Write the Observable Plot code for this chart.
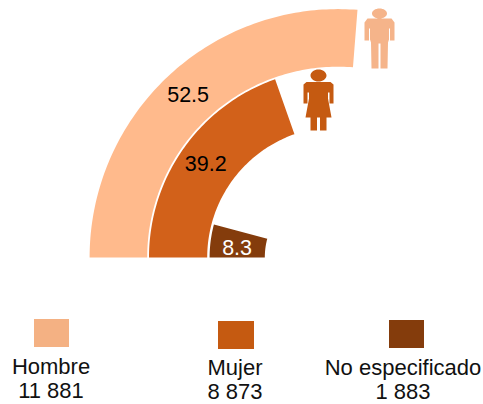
<!DOCTYPE html>
<html><head><meta charset="utf-8">
<script src="https://cdn.jsdelivr.net/npm/d3@7"></script>
<script src="https://cdn.jsdelivr.net/npm/@observablehq/plot@0.6"></script>
<style>
html,body{margin:0;padding:0;background:#fff}
body{width:483px;height:404px;position:relative;overflow:hidden;font-family:"Liberation Sans",Arial,sans-serif}
svg{display:block}
.sw{position:absolute}
.lb{position:absolute;transform:translateX(-50%);text-align:center;white-space:nowrap;font-size:22px;line-height:24px;color:#111}
</style></head><body>
<div id="chart"></div>
<script>
const categories = ["Hombre", "Mujer", "No especificado"];
const percents = [52.5, 39.2, 8.3];
const totals = ["11 881", "8 873", "1 883"];
const arcColors = ["#FFBA8C", "#D2611A", "#843C0C"];
const legendColors = ["#F4B183", "#C55A11", "#843C0C"];
const labelColors = ["#000", "#000", "#fff"];
const labelAt = [26.25, 19.6, 3.1];
const labelRing = [3.68, 2.70, 1.69];
const innerRing = [3.18, 2.18, 1.22];
const outerRing = [4.14, 3.15, 2.14];

const W = 483, H = 285, unit = 60, cx = 337.5, cy = 257;
const toXY = (pct, r) => {
  const a = pct / 100 * Math.PI;
  return [-r * Math.cos(a), r * Math.sin(a)];
};

// Polar bands, expressed in ring units and sampled along each value's sweep
const bands = categories.flatMap((c, i) => {
  const pts = [];
  const n = Math.ceil(percents[i] * 2);
  for (let k = 0; k <= n; k++) pts.push(toXY(percents[i] * k / n, outerRing[i]));
  for (let k = n; k >= 0; k--) pts.push(toXY(percents[i] * k / n, innerRing[i]));
  return pts.map(([x, y]) => ({c, x, y}));
});
const labels = categories.map((c, i) => {
  const [x, y] = toXY(labelAt[i], labelRing[i]);
  return {c, x, y, t: percents[i].toFixed(1), col: labelColors[i]};
});

const head = (ctx, s, cyy, rx, ry) => {
  const k = 0.5523;
  ctx.moveTo(-rx * s, cyy * s);
  ctx.bezierCurveTo(-rx * s, (cyy - ry * k) * s, -rx * k * s, (cyy - ry) * s, 0, (cyy - ry) * s);
  ctx.bezierCurveTo(rx * k * s, (cyy - ry) * s, rx * s, (cyy - ry * k) * s, rx * s, cyy * s);
  ctx.bezierCurveTo(rx * s, (cyy + ry * k) * s, rx * k * s, (cyy + ry) * s, 0, (cyy + ry) * s);
  ctx.bezierCurveTo(-rx * k * s, (cyy + ry) * s, -rx * s, (cyy + ry * k) * s, -rx * s, cyy * s);
  ctx.closePath();
};
const poly = (ctx, s, pts) => {
  pts.forEach(([x, y], i) => i ? ctx.lineTo(x * s, y * s) : ctx.moveTo(x * s, y * s));
  ctx.closePath();
};
const manSymbol = {draw(ctx, size) {
  const s = Math.sqrt(size / Math.PI) / 27;
  head(ctx, s, -28, 7.5, 5);
  poly(ctx, s, [[-1, 27], [-8, 27], [-8.5, 1], [-9.5, -2], [-9.5, -13], [-10.5, -13], [-10.5, -1], [-15, -1], [-15, -19], [-12, -23], [12, -23], [15, -19], [15, -1], [10.5, -1], [10.5, -13], [9.5, -13], [9.5, -2], [8.5, 1], [8, 27], [1, 27], [1, 2], [-1, 2]]);
}};
const womanSymbol = {draw(ctx, size) {
  const s = Math.sqrt(size / Math.PI) / 27;
  head(ctx, s, -27, 8, 6);
  poly(ctx, s, [[-12, -20.5], [-15, -18], [-15, 1], [-11, 1], [-11, -10], [-9.5, -10], [-9.5, -4], [-13, 15], [-8, 15], [-8, 28], [-1.5, 28], [-1.5, 15], [1.5, 15], [1.5, 28], [8, 28], [8, 15], [13, 15], [9.5, -4], [9.5, -10], [11, -10], [11, 1], [15, 1], [15, -18], [12, -20.5]]);
}};
// Figures sit just past each band's end, in ring units
const figures = [
  {x: 41.5 / unit, y: 216 / unit, symbol: manSymbol, fill: "#F5B48A"},
  {x: -19.5 / unit, y: 155 / unit, symbol: womanSymbol, fill: "#C55A11"}
];

const chart = Plot.plot({
  width: W, height: H, margin: 0,
  x: {domain: [-cx / unit, (W - cx) / unit], range: [0, W], axis: null},
  y: {domain: [(cy - H) / unit, cy / unit], range: [H, 0], axis: null},
  color: {type: "identity"},
  marks: [
    ...categories.map((c, i) => Plot.line(bands.filter(d => d.c === c), {
      x: "x", y: "y", fill: arcColors[i], stroke: "none", curve: "linear"
    })),
    Plot.text(labels, {x: "x", y: "y", text: "t", fill: "col", fontSize: 21.5, fontFamily: "Liberation Sans, Arial, sans-serif"}),
    ...figures.map(f => Plot.dot([f], {x: "x", y: "y", symbol: () => f.symbol, r: 27, fill: f.fill, stroke: "none"}))
  ]
});
document.getElementById("chart").append(chart);

const swatches = [[34, 319, 35, 28], [218, 321, 36, 28], [389, 320, 35, 28]];
const centers = [51, 235, 403];
const tops = [355, 356, 356];
categories.forEach((c, i) => {
  const sw = document.createElement("div");
  sw.className = "sw";
  const [l, t, w, h] = swatches[i];
  sw.style.cssText = `left:${l}px;top:${t}px;width:${w}px;height:${h}px;background:${legendColors[i]}`;
  document.body.append(sw);
  const lb = document.createElement("div");
  lb.className = "lb";
  lb.style.left = centers[i] + "px";
  lb.style.top = tops[i] + "px";
  lb.innerHTML = `${c}<br>${totals[i]}`;
  document.body.append(lb);
});
</script>
</body></html>
